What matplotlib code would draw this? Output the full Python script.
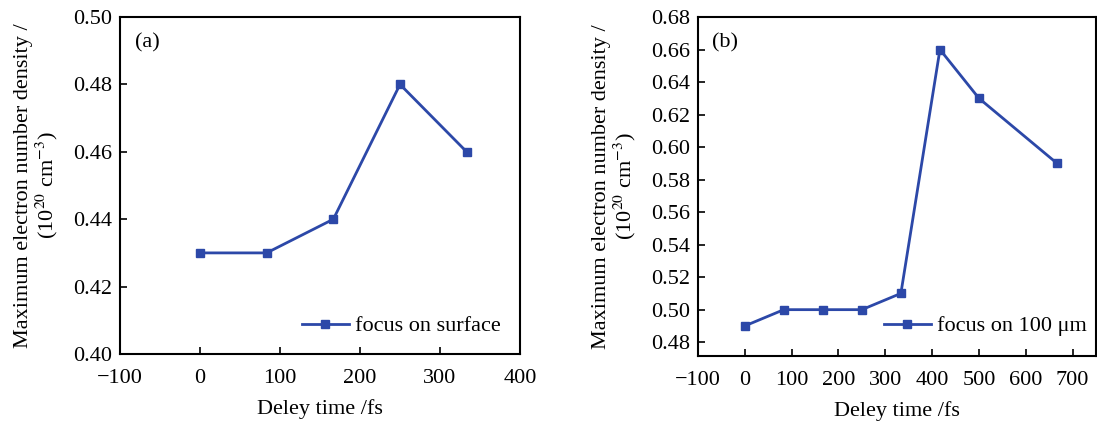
import matplotlib
matplotlib.use("Agg")
import matplotlib.pyplot as plt

# data
t_a = [0, 83.3, 166.7, 250, 333.3]
n_a = [0.43, 0.43, 0.44, 0.48, 0.46]
t_b = [0, 83.3, 166.7, 250, 333.3, 416.7, 500, 666.7]
n_b = [0.49, 0.50, 0.50, 0.50, 0.51, 0.66, 0.63, 0.59]

plt.rcParams['font.family'] = ['Liberation Serif', 'DejaVu Serif']
plt.rcParams['mathtext.fontset'] = 'stix'

COL = '#2c48a8'
FS = 16
ylab = 'Maximum electron number density /\n(10$^{20}$ cm$^{-3}$)'

fig = plt.figure(figsize=(10.97, 4.22), dpi=100)
W, H = 1097., 422.
ax1 = fig.add_axes([120/W, 1-354/H, (520-120)/W, (354-17)/H])
ax2 = fig.add_axes([698/W, 1-356/H, (1096-698)/W, (356-17)/H])

def style(ax):
    ax.tick_params(direction='in', length=5, width=1.2, labelsize=FS,
                   top=False, right=False)
    ax.tick_params(axis='x', pad=11)
    ax.tick_params(axis='y', pad=6)
    for s in ax.spines.values():
        s.set_linewidth(1.5)
    ax.set_xlabel('Deley time /fs', fontsize=FS, labelpad=8)
    ax.set_ylabel(ylab, fontsize=FS, linespacing=1.05, labelpad=9)

ax1.plot(t_a, n_a, '-s', color=COL, lw=2, ms=6, label='focus on surface')
ax1.set_xlim(-100, 400)
ax1.set_ylim(0.40, 0.50)
ax1.set_xticks([-100, 0, 100, 200, 300, 400])
ax1.set_yticks([0.40, 0.42, 0.44, 0.46, 0.48, 0.50])
ax1.set_xticklabels(['\u2212100', '0', '100', '200', '300', '400'])
ax1.set_yticklabels(['%.2f' % v for v in ax1.get_yticks()])
style(ax1)
ax1.text(15/400, 1-26/337, '(a)', transform=ax1.transAxes, fontsize=FS, va='center')
ax1.legend(loc='center right', frameon=False, fontsize=FS, handlelength=2.1,
           handletextpad=0.3, borderaxespad=0, bbox_to_anchor=(0.975, 0.083))

ax2.plot(t_b, n_b, '-s', color=COL, lw=2, ms=6, label='focus on 100 \u03bcm')
ax2.set_xlim(-100, 750)
ax2.set_ylim(0.4715, 0.68)
ax2.set_xticks([-100, 0, 100, 200, 300, 400, 500, 600, 700])
ax2.set_xticklabels(['\u2212100'] + [str(v) for v in range(0, 800, 100)])
ax2.set_yticks([0.48 + 0.02*i for i in range(11)])
ax2.set_yticklabels(['%.2f' % v for v in ax2.get_yticks()])
style(ax2)
ax2.text(14/398, 1-26/339, '(b)', transform=ax2.transAxes, fontsize=FS, va='center')
ax2.legend(loc='center right', frameon=False, fontsize=FS, handlelength=2.1,
           handletextpad=0.3, borderaxespad=0, bbox_to_anchor=(1.0, 0.088))

fig.savefig('out.png', dpi=100)
